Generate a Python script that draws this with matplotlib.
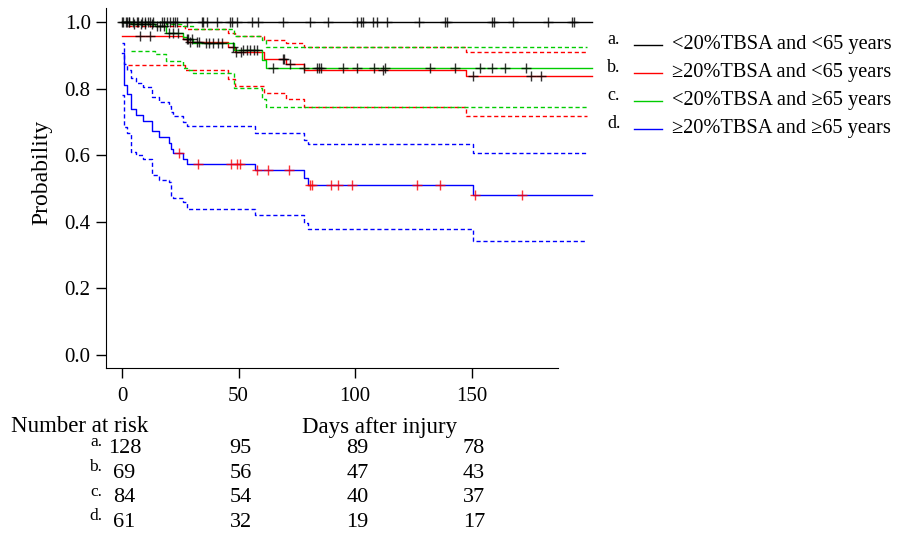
import numpy as np
import matplotlib
matplotlib.use("Agg")
import matplotlib.pyplot as plt
from matplotlib.transforms import blended_transform_factory

plt.rcParams['font.family'] = ['Liberation Serif', 'DejaVu Serif']

# ---- data ----
t_end = 201.5      # last follow-up day of the curves
ci_end = 199.5

# a. <20%TBSA and <65 years : no events
a_times = [0]
a_surv = [1.0]
a_cens = [0, 0.6, 2, 3.1, 4.8, 6.3, 7, 8.4, 9.9, 11.3, 12, 13.4, 17, 18.2, 19.2,
          20.6, 21.7, 22.7, 23.7, 28, 34.2, 34.9, 36.6, 40.6, 46.4, 47.1, 49.5,
          55.7, 58.5, 69, 80.7, 88.5, 100.7, 102.4, 103.6, 107.6, 109.3, 113.6,
          127.6, 138.6, 139.4, 158.7, 159.7, 167.7, 182.7, 193, 194]

# b. >=20%TBSA and <65 years
b_times = [0, 26, 28, 45.5, 48.5, 61, 70.5, 78, 147.6]
b_surv = [0.958, 0.948, 0.941, 0.925, 0.91, 0.89, 0.875, 0.857, 0.838]
b_up_times = [2.6, 27, 45.5, 48.5, 61, 70.5, 78, 147.6]
b_up = [0.988, 0.978, 0.966, 0.958, 0.946, 0.938, 0.924, 0.911]
b_lo_times = [2.6, 27, 45.5, 48.5, 61, 70.5, 78, 147.6]
b_lo = [0.871, 0.856, 0.828, 0.808, 0.786, 0.768, 0.745, 0.718]
b_cens = [7.7, 12, 27.8, 29, 32, 33, 47.7, 49, 51, 69, 69.7, 72, 112, 150.8,
          175.4, 179.7]

# c. <20%TBSA and >=65 years
c_times = [0, 4, 14, 19, 26, 28, 30.5, 48, 60, 61.7]
c_surv = [1.0, 0.995, 0.988, 0.966, 0.956, 0.948, 0.936, 0.916, 0.886, 0.861]
c_up_times = [4, 19, 26, 30.5, 48, 60, 61.7]
c_up = [1.0, 0.995, 0.988, 0.978, 0.958, 0.945, 0.926]
c_lo_times = [4, 14, 19, 26, 28, 30.5, 48, 60, 61.7]
c_lo = [0.914, 0.903, 0.884, 0.861, 0.855, 0.846, 0.803, 0.77, 0.746]
c_cens = [1.5, 3, 5, 8, 10, 13, 15, 16.5, 18, 20, 22, 24, 28.5, 30, 36, 37.5,
          39, 41, 43, 52, 53.5, 55, 56.5, 58, 65, 78, 83.5, 84.5, 85.3, 95,
          100.7, 108, 113, 132, 143, 153.6, 158.7, 164.4, 173.3]

# d. >=20%TBSA and >=65 years
d_times = [0, 0.7, 2, 4, 6, 9, 12.7, 16, 20, 21, 22, 26, 28, 57, 78, 80, 150.5]
d_surv = [0.907, 0.81, 0.784, 0.739, 0.72, 0.704, 0.674, 0.656, 0.638, 0.62,
          0.607, 0.588, 0.574, 0.556, 0.531, 0.51, 0.48]
d_up = [0.938, 0.875, 0.857, 0.831, 0.818, 0.804, 0.776, 0.761, 0.748, 0.73,
        0.718, 0.70, 0.688, 0.668, 0.645, 0.633, 0.607]
d_lo = [0.78, 0.686, 0.666, 0.61, 0.60, 0.59, 0.54, 0.525, 0.52, 0.475, 0.47,
        0.46, 0.439, 0.42, 0.395, 0.377, 0.342]
d_cens = [24.6, 32.7, 46.6, 49.2, 50.6, 57.8, 62.8, 71.8, 80.7, 81.7, 89.6,
          92.6, 98.6, 126.8, 136.5, 151.6, 171.8]

group_letters = ['a.', 'b.', 'c.', 'd.']
group_labels = ['<20%TBSA and <65 years', '\u226520%TBSA and <65 years',
                '<20%TBSA and \u226565 years', '\u226520%TBSA and \u226565 years']
risk_days = [0, 50, 100, 150]
at_risk = [[128, 95, 89, 78],
           [69, 56, 47, 43],
           [84, 54, 40, 37],
           [61, 32, 19, 17]]

colors = ['#000000', '#ff0000', '#00cc00', '#0000ff']
mark_colors = ['#000000', '#000000', '#000000', '#ff0000']

W, H = 897, 533
fig = plt.figure(figsize=(W / 100, H / 100), dpi=100)
ax = fig.add_axes([106 / W, 165 / H, 490 / W, 360 / H])


def step_at(times, surv, x):
    idx = np.searchsorted(times, x, side='right') - 1
    return np.asarray(surv)[np.clip(idx, 0, None)]


def draw_step(times, vals, end, color, ls='-'):
    tt = list(times) + [end]
    vv = list(vals) + [vals[-1]]
    line, = ax.step(tt, vv, where='post', color=color, lw=1.0, ls=ls)
    if ls != '-':
        line.set_dashes((3, 2))


# confidence bands (dashed)
draw_step(b_up_times, b_up, ci_end, colors[1], '--')
draw_step(b_lo_times, b_lo, ci_end, colors[1], '--')
draw_step(c_up_times, c_up, ci_end, colors[2], '--')
draw_step(c_lo_times, c_lo, ci_end, colors[2], '--')
draw_step(d_times, d_up, ci_end, colors[3], '--')
draw_step(d_times, d_lo, ci_end, colors[3], '--')

curves = [(a_times, a_surv, a_cens), (b_times, b_surv, b_cens),
          (c_times, c_surv, c_cens), (d_times, d_surv, d_cens)]
for (tt, ss, cc), col in zip(curves, colors):
    draw_step(tt, ss, t_end, col)
for (tt, ss, cc), mcol in zip(curves, mark_colors):
    ax.plot(cc, step_at(tt, ss, cc), ls='none', marker='+', ms=7.5,
            mew=1.0, color=mcol, alpha=0.8)

ax.set_xlim(-6.87, 203.4)
ax.set_ylim(-0.039, 1.042)
ax.spines['top'].set_visible(False)
ax.spines['right'].set_visible(False)
ax.spines['bottom'].set_bounds(-6.87, 187)
ax.set_xticks(risk_days)
ax.set_yticks([0.0, 0.2, 0.4, 0.6, 0.8, 1.0])
ax.set_yticklabels(['0.0', '0.2', '0.4', '0.6', '0.8', '1.0'])
ax.tick_params(axis='both', labelsize=15, length=7, width=1.0)
ax.tick_params(axis='x', pad=7)
ax.tick_params(axis='y', pad=4)


def px(x, y):
    return x / W, 1 - y / H


fig.text(*px(42, 172), 'Probability', fontsize=17, rotation=90,
         ha='center', va='center')
fig.text(*px(380, 427), 'Days after injury', fontsize=16.5, ha='center',
         va='center')
fig.text(*px(11, 427), 'Number at risk', fontsize=16.5, ha='left',
         va='center')

# number-at-risk table, columns under the x ticks
tr = blended_transform_factory(ax.transData, fig.transFigure)
row_base = [453, 478, 502.5, 527]
for letter, counts, y in zip(group_letters, at_risk, row_base):
    fig.text(*px(102, y - 7), letter, fontsize=12.5, ha='right',
             va='baseline')
    for d, n in zip(risk_days, counts):
        fig.text(d + 1, 1 - y / H, str(n), fontsize=16, ha='center',
                 va='baseline', transform=tr)

# legend on the right
leg_y = [45, 73, 101, 129]
for letter, label, col, y in zip(group_letters, group_labels, colors, leg_y):
    fig.text(*px(607, y - 6), letter, fontsize=13, ha='left', va='center')
    fig.add_artist(plt.Line2D([634 / W, 662 / W], [1 - y / H, 1 - y / H],
                              color=col, lw=1.0, transform=fig.transFigure))
    fig.text(*px(672, y - 1), label, fontsize=14.7, ha='left', va='center')

fig.savefig('out.png', dpi=100)
